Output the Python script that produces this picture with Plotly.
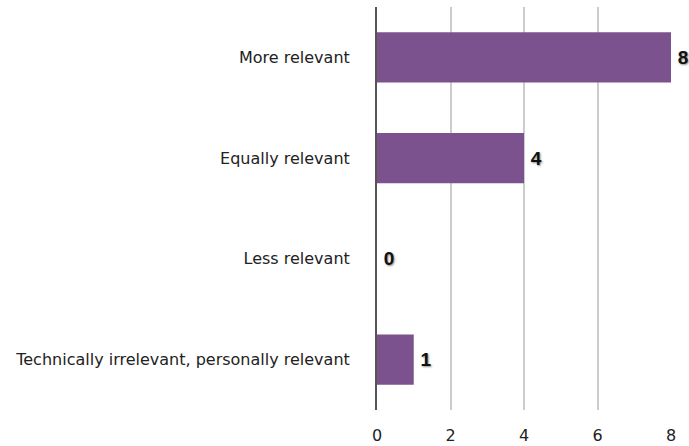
import plotly.graph_objects as go

categories = ["More relevant", "Equally relevant", "Less relevant",
              "Technically irrelevant, personally relevant"]
values = [8, 4, 0, 1]
tick_vals = [0, 2, 4, 6, 8]

fig = go.Figure(go.Bar(
    y=categories,
    x=values,
    orientation="h",
    marker=dict(color="#7b528d", line=dict(width=0)),
    width=0.5,
    text=["\u2009" + str(v) for v in values],
    textposition="outside",
    cliponaxis=False,
    textfont=dict(family="Liberation Sans, Arial, sans-serif", size=19,
                  color="#111111", weight="bold",
                  shadow="1px 1px 2px rgba(0,0,0,0.45)"),
))

fig.update_layout(
    width=689, height=446,
    margin=dict(l=377, r=18, t=7, b=36),
    plot_bgcolor="white", paper_bgcolor="white",
    showlegend=False,
    font=dict(family="DejaVu Sans, sans-serif", size=16, color="#222222"),
)
fig.update_xaxes(
    range=[0, 8], tickvals=tick_vals, showgrid=True, gridcolor="#cccccc",
    gridwidth=2, zeroline=False, showline=False, ticks="",
    tickfont=dict(size=16, color="#222222"), ticklabelstandoff=14,
    automargin=False,
)
fig.update_yaxes(
    categoryorder="array", categoryarray=categories[::-1],
    range=[-0.5, 3.5], showgrid=False, zeroline=False,
    showline=True, linecolor="#555555", linewidth=2, ticks="",
    ticklabelstandoff=22, automargin=False,
)
fig.write_html("out.html")
